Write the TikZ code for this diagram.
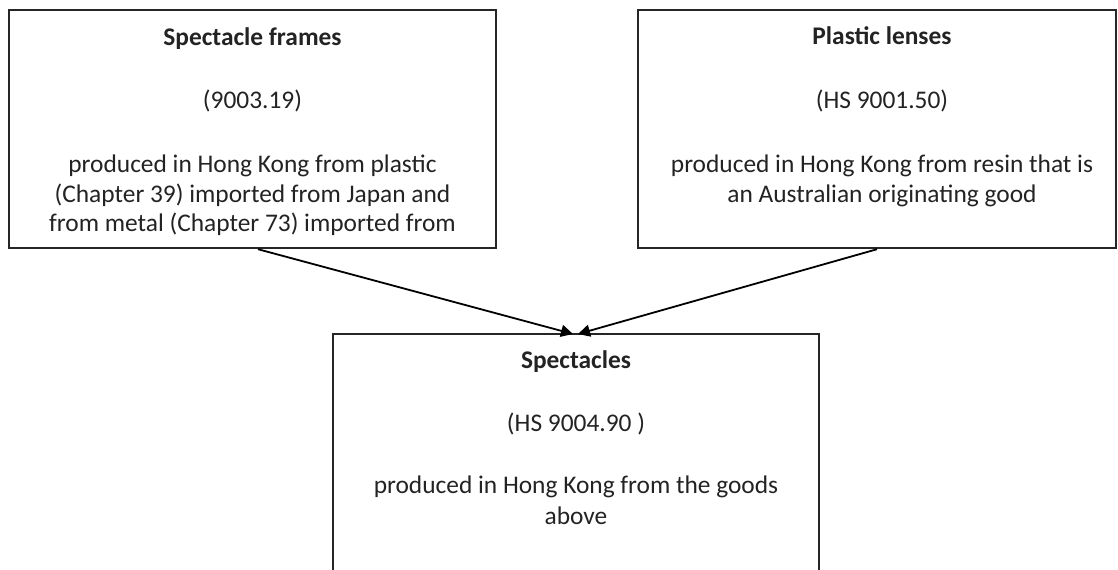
\documentclass[tikz,border=0pt]{standalone}
\usepackage{fontspec}
\setmainfont{Carlito}
\usetikzlibrary{arrows.meta}
\definecolor{txtc}{RGB}{35,35,35}
\tikzset{
  box/.style={draw=black!85, line width=1.2pt, rectangle, inner sep=0pt},
  txt/.style={anchor=base, inner sep=0pt, text=txtc, font=\fontsize{12.7}{15}\selectfont},
  ttl/.style={txt, font=\fontsize{12.7}{15}\selectfont\bfseries},
  conn/.style={draw=black, line width=0.9pt, -{Triangle[length=6pt,width=6pt]}}
}
\begin{document}
\begin{tikzpicture}[x=0.5pt,y=-0.5pt]
\clip (0,0) rectangle (1118,569);
\fill[white] (0,0) rectangle (1118,569);
% boxes
\node[box, minimum width=243.5pt, minimum height=119pt] (lf) at (252.5,129) {};
\node[box, minimum width=239pt, minimum height=119pt] (rt) at (877,129) {};
\node[box, minimum width=243pt, minimum height=128pt] (bt) at (576,462) {};
% left texts
\node[ttl] (lf1) at (252.5,45) {Spectacle frames};
\node[txt] (lf2) at (252.5,108) {(9003.19)};
\node[txt] (lf3) at (252.5,172) {produced in Hong Kong from plastic};
\node[txt] (lf4) at (252.5,202) {(Chapter 39) imported from Japan and};
\node[txt] (lf5) at (252.5,231) {from metal (Chapter 73) imported from};
% right texts
\node[ttl] (rt1) at (882,44) {Plastic lenses};
\node[txt] (rt2) at (882,108) {(HS 9001.50)};
\node[txt] (rt3) at (882,172) {produced in Hong Kong from resin that is};
\node[txt] (rt4) at (882,202) {an Australian originating good};
% bottom texts
\node[ttl] (bt1) at (576,368) {Spectacles};
\node[txt] (bt2) at (576,431) {(HS 9004.90 )};
\node[txt] (bt3) at (576,493) {produced in Hong Kong from the goods};
\node[txt] (bt4) at (576,524) {above};
% connectors
\coordinate (tipL) at (573,334);
\coordinate (tipR) at (578,334);
\draw[conn] ([xshift=2.75pt]lf.south) -- (tipL);
\draw[conn] (rt.south) -- (tipR);
\end{tikzpicture}
\end{document}
